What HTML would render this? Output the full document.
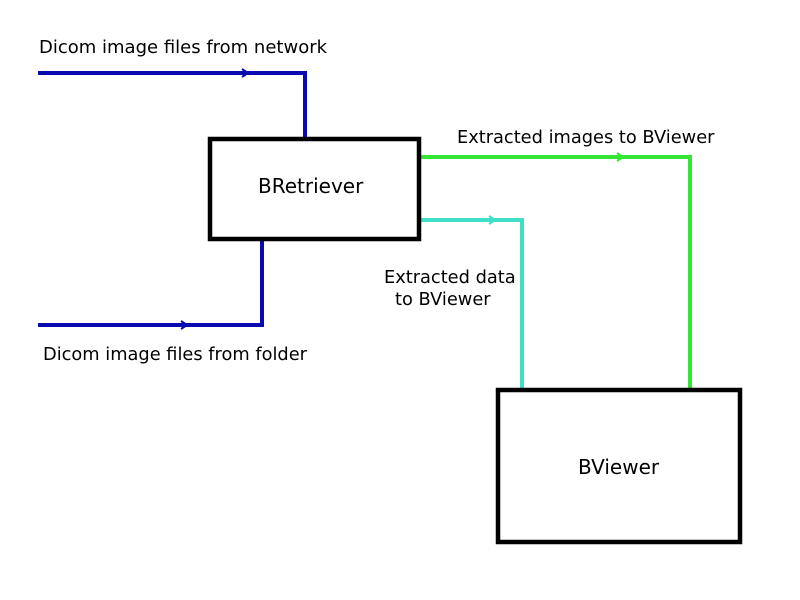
<!DOCTYPE html>
<html>
<head>
<meta charset="utf-8">
<style>
html,body{margin:0;padding:0;background:#fff;}
svg{display:block;}
text{font-family:"DejaVu Sans","Liberation Sans",sans-serif;fill:#000;}
</style>
</head>
<body>
<svg width="800" height="600" viewBox="0 0 800 600" xmlns="http://www.w3.org/2000/svg">
<rect width="800" height="600" fill="#fff"/>

<!-- Blue top connector -->
<polyline points="38,73 305,73 305,138" fill="none" stroke="#0a0ab0" stroke-width="4"/>
<polyline points="242,69 248,73 242,77" fill="none" stroke="#0a0ab0" stroke-width="2"/>

<!-- Blue bottom connector -->
<polyline points="38,325 262,325 262,240" fill="none" stroke="#0a0ab0" stroke-width="4"/>
<polyline points="181,321 187,325 181,329" fill="none" stroke="#0a0ab0" stroke-width="2"/>

<!-- Green connector -->
<polyline points="420,157 690,157 690,390" fill="none" stroke="#33e633" stroke-width="4"/>
<polyline points="617,153 623,157 617,161" fill="none" stroke="#33e633" stroke-width="2"/>

<!-- Cyan connector -->
<polyline points="420,220 522,220 522,390" fill="none" stroke="#40e0c8" stroke-width="4"/>
<polyline points="489,216 495,220 489,224" fill="none" stroke="#40e0c8" stroke-width="2"/>

<!-- BRetriever box -->
<rect x="210" y="139" width="209" height="100" fill="#fff" stroke="#000" stroke-width="4.5"/>
<text x="258" y="193" font-size="20">BRetriever</text>

<!-- BViewer box -->
<rect x="498" y="390" width="242" height="152" fill="#fff" stroke="#000" stroke-width="4.5"/>
<text x="578" y="474" font-size="20">BViewer</text>

<!-- Labels -->
<text x="39" y="53" font-size="18">Dicom image files from network</text>
<text x="457" y="143" font-size="17.8">Extracted images to BViewer</text>
<text x="384" y="283" font-size="17.8">Extracted data</text>
<text x="395" y="305" font-size="17.8">to BViewer</text>
<text x="43" y="360" font-size="17.8">Dicom image files from folder</text>
</svg>
</body>
</html>
